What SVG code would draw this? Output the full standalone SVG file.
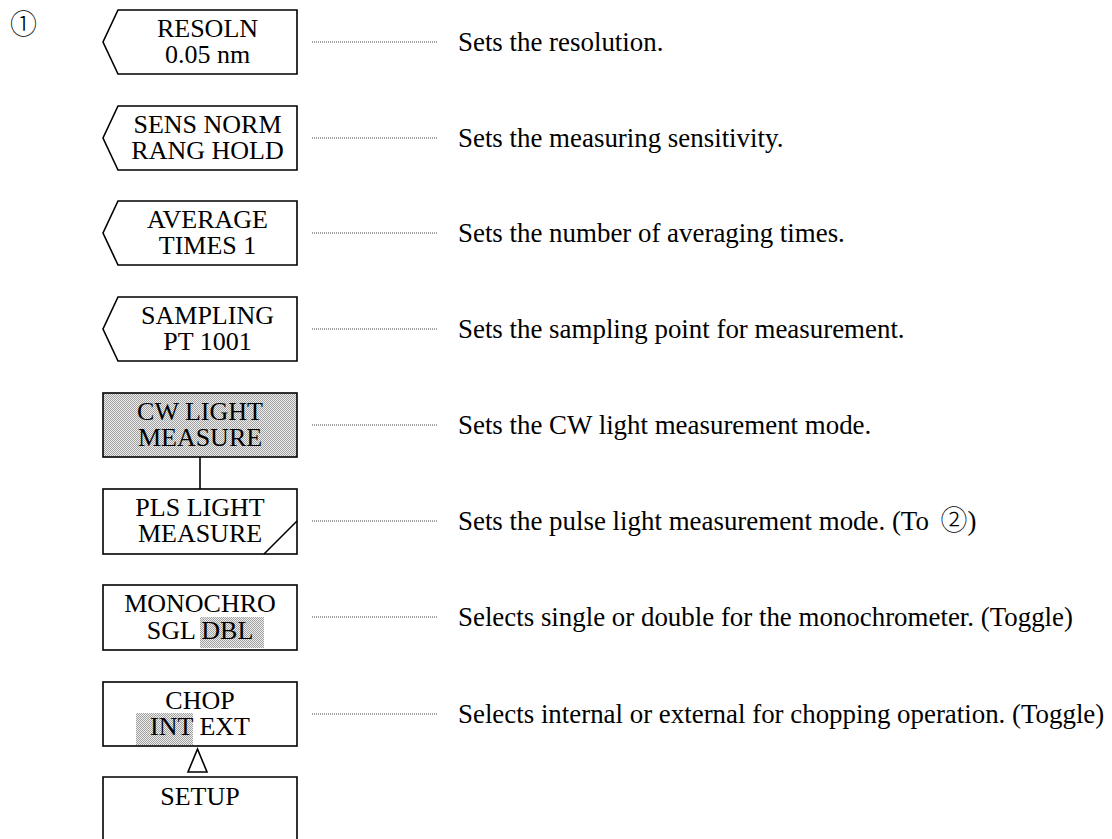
<svg xmlns="http://www.w3.org/2000/svg" width="1112" height="839" viewBox="0 0 1112 839">
<style>
.box{fill:#fff;stroke:#000;stroke-width:1.6}
.hi{fill:url(#stip)}
.bt{font-family:"Liberation Serif","Times New Roman",serif;font-size:26px;fill:#000;text-anchor:middle}
.dt{font-family:"Liberation Serif","Times New Roman",serif;font-size:26.9px;fill:#000}
.cj{font-family:"Noto Sans CJK JP","DejaVu Sans",sans-serif;font-weight:300}
.lead{stroke:#444;stroke-width:1;stroke-dasharray:1 1;fill:none}
.conn{stroke:#000;stroke-width:1.6;fill:none}
</style>
<defs>
<pattern id="stip" width="2" height="2" patternUnits="userSpaceOnUse">
<rect width="2" height="2" fill="#eeeeee"/>
<rect x="0" y="0" width="1" height="1" fill="#a0a0a0"/>
<rect x="1" y="1" width="1" height="1" fill="#a0a0a0"/>
</pattern>
</defs>
<rect width="1112" height="839" fill="#fff"/>
<text x="10" y="34" class="dt cj" style="font-size:27px">①</text>

<g id="n-resoln">
<polygon class="box" points="118,10 297,10 297,74 118,74 103,42"/>
<text class="bt" x="207.5" y="36.5">RESOLN</text>
<text class="bt" x="207.5" y="63">0.05 nm</text>
</g>
<g id="n-sens">
<polygon class="box" points="118,106 297,106 297,170 118,170 103,138"/>
<text class="bt" x="207.5" y="132.5">SENS NORM</text>
<text class="bt" x="207.5" y="159">RANG HOLD</text>
</g>
<g id="n-average">
<polygon class="box" points="118,201 297,201 297,265 118,265 103,233"/>
<text class="bt" x="207.5" y="227.5">AVERAGE</text>
<text class="bt" x="207.5" y="254">TIMES 1</text>
</g>
<g id="n-sampling">
<polygon class="box" points="118,297 297,297 297,361 118,361 103,329"/>
<text class="bt" x="207.5" y="323.5">SAMPLING</text>
<text class="bt" x="207.5" y="350">PT 1001</text>
</g>
<g id="n-cw">
<rect class="box" x="103" y="393" width="194" height="64" style="fill:url(#stip)"/>
<text class="bt" x="200" y="419.5">CW LIGHT</text>
<text class="bt" x="200" y="446">MEASURE</text>
</g>
<g id="n-pls">
<rect class="box" x="103" y="489" width="194" height="65"/>
<line class="conn" x1="264" y1="554" x2="297" y2="521"/>
<text class="bt" x="200" y="515.5">PLS LIGHT</text>
<text class="bt" x="200" y="542">MEASURE</text>
</g>
<g id="n-mono">
<rect class="box" x="103" y="585" width="194" height="65"/>
<rect class="hi" x="200" y="617" width="64" height="31"/>
<text class="bt" x="200" y="612">MONOCHRO</text>
<text class="bt" x="200" y="639">SGL DBL</text>
</g>
<g id="n-chop">
<rect class="box" x="103" y="682" width="194" height="64"/>
<rect class="hi" x="136" y="713" width="57" height="32"/>
<text class="bt" x="200" y="708.5">CHOP</text>
<text class="bt" x="200" y="735">INT EXT</text>
</g>
<g id="n-setup">
<path class="box" d="M103,850 V777 H297 V850"/>
<text class="bt" x="200" y="805">SETUP</text>
</g>

<g id="connectors">
<line class="conn" x1="200" y1="457" x2="200" y2="489"/>
<polygon class="conn" points="197.5,749 188,772 207,772"/>
<line class="lead" x1="312" y1="42" x2="437" y2="42"/>
<line class="lead" x1="312" y1="138" x2="437" y2="138"/>
<line class="lead" x1="312" y1="233" x2="437" y2="233"/>
<line class="lead" x1="312" y1="329" x2="437" y2="329"/>
<line class="lead" x1="312" y1="425" x2="437" y2="425"/>
<line class="lead" x1="312" y1="521" x2="437" y2="521"/>
<line class="lead" x1="312" y1="617" x2="437" y2="617"/>
<line class="lead" x1="312" y1="714" x2="437" y2="714"/>
</g>

<g id="descriptions">
<text class="dt" x="458" y="50.5">Sets the resolution.</text>
<text class="dt" x="458" y="146.5">Sets the measuring sensitivity.</text>
<text class="dt" x="458" y="241.5">Sets the number of averaging times.</text>
<text class="dt" x="458" y="337.5">Sets the sampling point for measurement.</text>
<text class="dt" x="458" y="433.5">Sets the CW light measurement mode.</text>
<text class="dt" x="458" y="529.5">Sets the pulse light measurement mode. (To <tspan class="cj" dx="5">②</tspan>)</text>
<text class="dt" x="458" y="625.5">Selects single or double for the monochrometer. (Toggle)</text>
<text class="dt" x="458" y="722.5">Selects internal or external for chopping operation. (Toggle)</text>
</g>
</svg>
